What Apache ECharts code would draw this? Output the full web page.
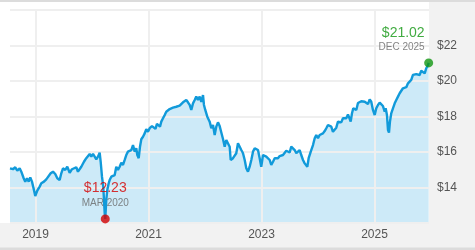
<!DOCTYPE html>
<html><head><meta charset="utf-8">
<script src="https://cdn.jsdelivr.net/npm/echarts@6/dist/echarts.min.js"></script>
<style>html,body{margin:0;padding:0;background:#fff}#c{width:475px;height:250px}</style>
</head><body><div id="c"></div>
<script>
const years = [2018.549, 2018.602, 2018.642, 2018.678, 2018.720, 2018.749, 2018.791, 2018.819, 2018.850, 2018.880, 2018.908, 2018.938, 2018.973, 2018.996, 2019.032, 2019.074, 2019.103, 2019.150, 2019.191, 2019.221, 2019.269, 2019.310, 2019.350, 2019.386, 2019.428, 2019.457, 2019.487, 2019.527, 2019.563, 2019.605, 2019.646, 2019.681, 2019.722, 2019.752, 2019.811, 2019.858, 2019.899, 2019.929, 2019.959, 2019.988, 2020.018, 2020.048, 2020.076, 2020.106, 2020.136, 2020.154, 2020.177, 2020.200, 2020.225, 2020.235, 2020.253, 2020.271, 2020.296, 2020.313, 2020.342, 2020.372, 2020.402, 2020.430, 2020.460, 2020.490, 2020.519, 2020.549, 2020.579, 2020.607, 2020.637, 2020.667, 2020.696, 2020.726, 2020.756, 2020.784, 2020.802, 2020.827, 2020.850, 2020.873, 2020.903, 2020.933, 2020.961, 2020.991, 2021.021, 2021.062, 2021.094, 2021.124, 2021.150, 2021.182, 2021.204, 2021.227, 2021.257, 2021.287, 2021.315, 2021.345, 2021.375, 2021.404, 2021.434, 2021.464, 2021.492, 2021.522, 2021.552, 2021.581, 2021.611, 2021.641, 2021.669, 2021.699, 2021.729, 2021.758, 2021.788, 2021.818, 2021.846, 2021.876, 2021.906, 2021.935, 2021.965, 2021.982, 2022.005, 2022.041, 2022.083, 2022.112, 2022.142, 2022.172, 2022.200, 2022.230, 2022.260, 2022.289, 2022.319, 2022.349, 2022.377, 2022.407, 2022.437, 2022.455, 2022.496, 2022.526, 2022.554, 2022.584, 2022.614, 2022.643, 2022.673, 2022.703, 2022.731, 2022.761, 2022.791, 2022.820, 2022.850, 2022.880, 2022.908, 2022.938, 2022.968, 2022.996, 2023.027, 2023.057, 2023.085, 2023.115, 2023.145, 2023.173, 2023.204, 2023.234, 2023.262, 2023.292, 2023.322, 2023.350, 2023.381, 2023.411, 2023.439, 2023.469, 2023.499, 2023.527, 2023.558, 2023.588, 2023.616, 2023.646, 2023.676, 2023.704, 2023.735, 2023.765, 2023.793, 2023.811, 2023.835, 2023.858, 2023.881, 2023.912, 2023.942, 2023.970, 2024.000, 2024.030, 2024.058, 2024.088, 2024.119, 2024.147, 2024.177, 2024.207, 2024.235, 2024.265, 2024.296, 2024.324, 2024.354, 2024.384, 2024.412, 2024.442, 2024.473, 2024.501, 2024.531, 2024.561, 2024.579, 2024.602, 2024.625, 2024.650, 2024.678, 2024.708, 2024.738, 2024.766, 2024.796, 2024.827, 2024.855, 2024.885, 2024.915, 2024.943, 2024.973, 2025.004, 2025.032, 2025.062, 2025.092, 2025.120, 2025.150, 2025.181, 2025.198, 2025.221, 2025.239, 2025.257, 2025.274, 2025.297, 2025.327, 2025.358, 2025.386, 2025.416, 2025.446, 2025.474, 2025.504, 2025.535, 2025.563, 2025.593, 2025.623, 2025.651, 2025.681, 2025.711, 2025.740, 2025.770, 2025.800, 2025.828, 2025.858, 2025.889, 2025.917, 2025.947, 2025.959];
const prices = [15.08, 15.03, 15.14, 14.95, 15.08, 14.89, 14.52, 14.33, 14.52, 14.33, 14.57, 14.33, 13.86, 13.52, 13.82, 14.05, 14.24, 14.33, 14.46, 14.42, 14.80, 14.89, 14.76, 14.52, 14.42, 14.80, 15.08, 14.99, 15.17, 14.83, 15.03, 14.95, 15.14, 14.89, 15.17, 15.45, 15.65, 15.55, 15.89, 15.74, 15.89, 15.74, 15.59, 15.74, 15.96, 15.45, 14.61, 14.05, 12.55, 12.23, 13.30, 13.86, 14.24, 14.42, 14.61, 14.52, 14.70, 15.17, 14.99, 15.17, 15.40, 15.27, 15.55, 15.83, 16.02, 16.11, 16.11, 16.39, 16.02, 16.21, 15.83, 15.65, 16.30, 16.72, 16.86, 17.05, 17.28, 17.14, 17.34, 17.46, 17.38, 17.30, 17.58, 17.55, 17.43, 17.71, 17.90, 18.08, 18.27, 18.18, 18.42, 18.31, 18.50, 18.42, 18.55, 18.46, 18.61, 18.50, 18.80, 18.87, 18.93, 18.80, 18.65, 18.37, 18.74, 18.93, 19.12, 18.93, 19.12, 18.83, 19.21, 18.65, 18.37, 17.99, 17.71, 17.34, 17.52, 16.96, 17.43, 17.67, 17.46, 17.10, 16.73, 16.30, 16.68, 16.77, 16.30, 15.55, 15.65, 15.59, 15.93, 16.49, 16.58, 16.11, 15.93, 15.55, 15.08, 14.89, 15.17, 15.55, 16.02, 16.21, 16.30, 16.11, 15.65, 15.17, 15.83, 15.93, 15.74, 15.83, 15.55, 15.27, 15.45, 15.65, 15.74, 15.65, 15.77, 15.74, 15.83, 15.93, 16.07, 15.97, 15.97, 16.30, 16.39, 16.11, 15.93, 16.02, 16.11, 15.83, 15.55, 15.36, 15.45, 15.17, 15.65, 15.74, 16.11, 16.39, 16.77, 16.96, 16.77, 16.96, 16.96, 17.05, 17.18, 17.34, 17.52, 17.56, 17.43, 17.14, 17.05, 17.37, 17.71, 17.80, 17.67, 17.90, 17.99, 17.90, 18.12, 18.18, 17.71, 18.18, 18.46, 18.55, 18.37, 18.76, 18.79, 18.86, 18.76, 18.83, 18.74, 18.70, 18.97, 18.83, 18.37, 18.08, 18.46, 18.65, 18.78, 18.83, 18.59, 18.27, 18.46, 18.08, 17.24, 17.09, 17.71, 18.18, 18.46, 18.74, 18.93, 19.12, 19.31, 19.40, 19.59, 19.68, 19.65, 19.87, 19.96, 20.06, 20.34, 20.43, 20.39, 20.47, 20.34, 20.58, 20.66, 20.43, 20.72, 20.90, 21.02];
const xTicks = [2019, 2021, 2023, 2025];
const yTicks = [14, 16, 18, 20, 22];
const lowLabel = 'MAR 2020';
const lastLabel = 'DEC 2025';

const n = Math.min(years.length, prices.length);
const data = [];
for (let i = 0; i < n; i++) data.push([years[i], prices[i]]);
const lowIdx = prices.indexOf(Math.min.apply(null, prices.slice(0, n)));
const lastIdx = n - 1;
const FONT = '"Liberation Sans", Arial, sans-serif';

const chart = echarts.init(document.getElementById('c'), null, {renderer: 'canvas'});
chart.setOption({
  animation: false,
  grid: {left: 10, right: 46, top: 10, bottom: 27},
  graphic: [
    {type: 'rect', z: -10, silent: true, shape: {x: 429, y: 0, width: 46, height: 250}, style: {fill: '#f2f2f2'}},
    {type: 'rect', z: -10, silent: true, shape: {x: 0, y: 223, width: 475, height: 27}, style: {fill: '#f2f2f2'}},
    {type: 'rect', z: -9, silent: true, shape: {x: 0, y: 247.5, width: 475, height: 2.5}, style: {fill: '#dcdcdc'}},
    {type: 'rect', z: -9, silent: true, shape: {x: 0, y: 0, width: 475, height: 2}, style: {fill: '#dcdcdc'}}
  ],
  xAxis: {
    type: 'value', min: years[0], max: 2025.965, z: 2,
    axisLine: {show: false},
    axisTick: {show: false, customValues: xTicks},
    axisLabel: {customValues: xTicks, formatter: v => String(Math.round(v)), color: '#555', fontSize: 12, fontFamily: FONT, margin: 6},
    splitLine: {show: true, lineStyle: {color: '#efefef', width: 2}}
  },
  yAxis: {
    type: 'value', position: 'right', min: 12, max: 24, interval: 2, z: 2,
    axisLine: {show: false}, axisTick: {show: false},
    axisLabel: {customValues: yTicks, formatter: v => '$' + v, color: '#555', fontSize: 12, fontFamily: FONT, margin: 8, align: 'left'},
    splitLine: {show: true, lineStyle: {color: '#efefef', width: 2}}
  },
  series: [
    {type: 'line', data: data, symbol: 'none', silent: true, z: 1,
     lineStyle: {opacity: 0}, areaStyle: {color: '#cdeaf8', opacity: 1}},
    {type: 'line', data: data, symbol: 'none', silent: true, z: 3,
     lineStyle: {color: '#119ada', width: 2.4}},
    {type: 'scatter', z: 4, symbolSize: 9, silent: true,
     data: [
       {value: data[lowIdx], itemStyle: {color: '#d40000'},
        label: {show: true, position: 'top', distance: 5, align: 'center',
          formatter: '{a|$' + prices[lowIdx].toFixed(2) + '}\n{b|' + lowLabel + '}',
          rich: {a: {color: '#d40000', fontSize: 14, lineHeight: 19, fontFamily: FONT},
                 b: {color: '#666', fontSize: 10, lineHeight: 12, fontFamily: FONT}}}},
       {value: data[lastIdx], itemStyle: {color: '#129612'},
        label: {show: true, position: 'top', distance: 5, align: 'right', offset: [-4, 0],
          formatter: '{a|$' + prices[lastIdx].toFixed(2) + '}\n{b|' + lastLabel + '}',
          rich: {a: {color: '#129612', fontSize: 14, lineHeight: 17, fontFamily: FONT, align: 'right'},
                 b: {color: '#666', fontSize: 10, lineHeight: 12, fontFamily: FONT, align: 'right'}}}}
     ]}
  ]
});
</script></body></html>
